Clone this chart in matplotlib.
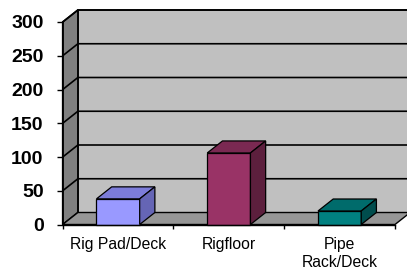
import matplotlib
matplotlib.use("Agg")
import matplotlib.pyplot as plt
from matplotlib.patches import Polygon, Rectangle

categories = ["Rig Pad/Deck", "Rigfloor", "Pipe\nRack/Deck"]
values = [38, 106, 20]
yticks = [0, 50, 100, 150, 200, 250, 300]

front_colors = ["#9999FF", "#993366", "#008080"]
top_colors = ["#7C7CD9", "#7A2952", "#006B6B"]
side_colors = ["#6565B5", "#5C1F3D", "#004D4D"]

W, H = 407, 271
fig = plt.figure(figsize=(W / 100, H / 100), dpi=100)
x0, x1 = 62.7, 395.0
y0, y1 = 224.5, 22.0
ax = fig.add_axes([x0 / W, (H - y0) / H, (x1 - x0) / W, (y0 - y1) / H])

n = len(categories)
xmin, xmax = -0.5, n - 0.5
ymin, ymax = 0, 300
ax.set_xlim(xmin, xmax)
ax.set_ylim(ymin, ymax)
ax.set_facecolor("none")

# depth offset in data units (approx 15 px right, 12 px up)
DX = 15.2 / ((x1 - x0) / (xmax - xmin))
DY = 12.0 / ((y0 - y1) / (ymax - ymin))

lw_grid = 1.2
# back wall
ax.add_patch(Polygon([(xmin + DX, ymin + DY), (xmax + DX, ymin + DY),
                      (xmax + DX, ymax + DY), (xmin + DX, ymax + DY)],
                     closed=True, facecolor="#C0C0C0", edgecolor="black",
                     lw=lw_grid, zorder=1, clip_on=False))
# side wall
ax.add_patch(Polygon([(xmin, ymin), (xmin, ymax), (xmin + DX, ymax + DY),
                      (xmin + DX, ymin + DY)],
                     closed=True, facecolor="#808080", edgecolor="black",
                     lw=lw_grid, zorder=1, clip_on=False))
# gridlines
for v in yticks[1:]:
    ax.plot([xmin, xmin + DX, xmax + DX], [v, v + DY, v + DY], color="black",
            lw=lw_grid, zorder=2, clip_on=False, solid_capstyle="butt")
# floor
ax.add_patch(Polygon([(xmin, ymin), (xmax, ymin), (xmax + DX, ymin + DY),
                      (xmin + DX, ymin + DY)],
                     closed=True, facecolor="#969696", edgecolor="black",
                     lw=1.0, zorder=2, clip_on=False))

# bars
bw = 0.39
for i, v in enumerate(values):
    l, r = i - bw / 2, i + bw / 2
    ax.add_patch(Rectangle((l, 0), bw, v, facecolor=front_colors[i],
                           edgecolor="black", lw=0.9, zorder=4, clip_on=False))
    ax.add_patch(Polygon([(l, v), (r, v), (r + DX, v + DY), (l + DX, v + DY)],
                         closed=True, facecolor=top_colors[i],
                         edgecolor="black", lw=0.9, zorder=4, clip_on=False))
    ax.add_patch(Polygon([(r, 0), (r + DX, DY), (r + DX, v + DY), (r, v)],
                         closed=True, facecolor=side_colors[i],
                         edgecolor="black", lw=0.9, zorder=4, clip_on=False))

# axes
for s in ["top", "right"]:
    ax.spines[s].set_visible(False)
ax.spines["left"].set_linewidth(lw_grid)
ax.spines["bottom"].set_linewidth(1.0)
ax.spines["left"].set_zorder(5)
ax.spines["bottom"].set_zorder(5)

ax.set_yticks(yticks)
ax.set_yticklabels([str(t) for t in yticks], fontfamily="Liberation Sans",
                   fontweight="bold", fontsize=14)
ax.tick_params(axis="y", direction="out", length=4.3, width=1.0, pad=9.5)

ax.set_xticks(range(n))
ax.set_xticklabels(categories, fontfamily="Liberation Sans", fontsize=11.3,
                   linespacing=1.25)
ax.set_xticks([xmin + k for k in range(n + 1)], minor=True)
ax.tick_params(axis="x", which="major", length=0, pad=9.0)
ax.tick_params(axis="x", which="minor", direction="out", length=3.2, width=1.0)

fig.savefig("out.png", dpi=100, facecolor="white")
